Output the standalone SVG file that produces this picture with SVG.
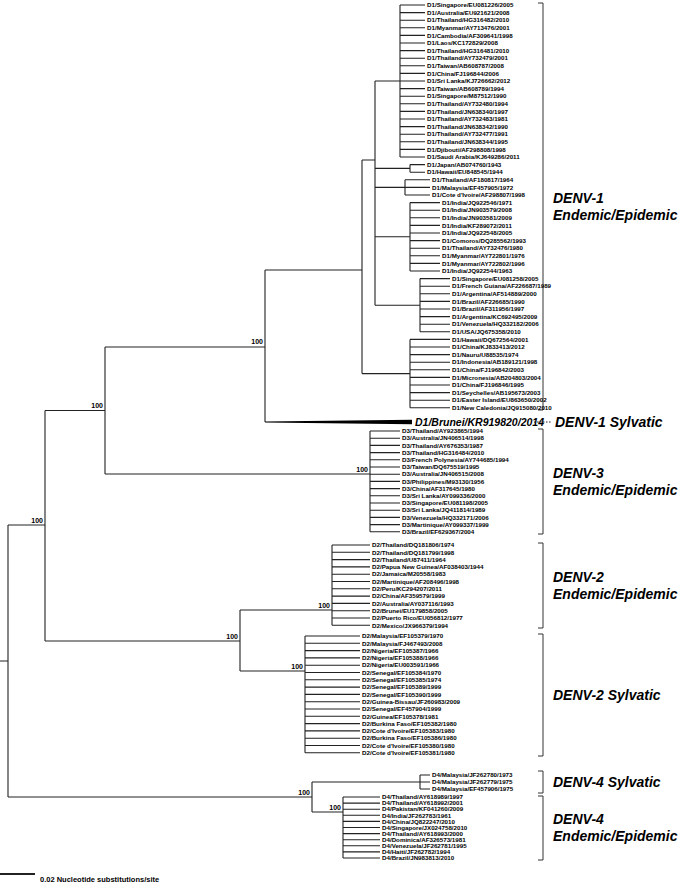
<svg xmlns="http://www.w3.org/2000/svg" width="685" height="888" viewBox="0 0 685 888">
<style>
.l{font-family:"Liberation Sans",Arial,sans-serif;font-size:6.2px;font-weight:bold;fill:#000}
.b{font-family:"Liberation Sans",Arial,sans-serif;font-size:7px;font-weight:bold;fill:#000;text-anchor:end}
.g{font-family:"Liberation Sans",Arial,sans-serif;font-size:14px;font-weight:bold;font-style:italic;fill:#000}
.t{fill:none;stroke:#222;stroke-width:1.1}
.k{fill:none;stroke:#333;stroke-width:1}
</style>
<rect width="685" height="888" fill="#fff"/>
<g id="connectors" class="t">
<path d="M0 661H8M8 525V797M8 525H45M45 410.5V641M45 410.5H105M105 347V474M105 347H265M265 270V422M265 270H362M362 160V373.6M362 160H375M375 81V305.2"/>
<path d="M375 81H400M400 5V157M400 5H425M400 12.6H425M400 20.2H425M400 27.8H425M400 35.4H425M400 43H425M400 50.6H425M400 58.2H425M400 65.8H425M400 73.4H425M400 81H425M400 88.6H425M400 96.2H425M400 103.8H425M400 111.4H425M400 119H425M400 126.6H425M400 134.2H425M400 141.8H425M400 149.4H425M400 157H425"/>
<path d="M375 168.4H410M410 164.6V172.2M410 164.6H425M410 172.2H425M375 187.4H405M405 179.8V195M405 179.8H430M405 187.4H430M405 195H430"/>
<path d="M375 236.8H410M410 202.6V271M410 202.6H440M410 210.2H440M410 217.8H440M410 225.4H440M410 233H440M410 240.6H440M410 248.2H440M410 255.8H440M410 263.4H440M410 271H440"/>
<path d="M375 305.2H420M420 278.6V331.8M420 278.6H450M420 286.2H450M420 293.8H450M420 301.4H450M420 309H450M420 316.6H450M420 324.2H450M420 331.8H450"/>
<path d="M362 373.6H410M410 339.4V407.8M410 339.4H450M410 347H450M410 354.6H450M410 362.2H450M410 369.8H450M410 377.4H450M410 385H450M410 392.6H450M410 400.2H450M410 407.8H450"/>
<path d="M105 474H370M370 431V531.8M370 431H400M370 438.2H400M370 445.4H400M370 452.6H400M370 459.8H400M370 467H400M370 474.2H400M370 481.4H400M370 488.6H400M370 495.8H400M370 503H400M370 510.2H400M370 517.4H400M370 524.6H400M370 531.8H400"/>
<path d="M45 641H240M240 610V671M240 610H332M332 545V625.3M332 545H370M332 552.3H370M332 559.6H370M332 566.9H370M332 574.2H370M332 581.5H370M332 588.8H370M332 596.1H370M332 603.4H370M332 610.7H370M332 618H370M332 625.3H370"/>
<path d="M240 671H305M305 636V752.8M305 636H360M305 643.3H360M305 650.6H360M305 657.9H360M305 665.2H360M305 672.5H360M305 679.8H360M305 687.1H360M305 694.4H360M305 701.7H360M305 709H360M305 716.3H360M305 723.6H360M305 730.9H360M305 738.2H360M305 745.5H360M305 752.8H360"/>
<path d="M8 797H312M312 782V812M312 782H420M420 775V789M420 775H430M420 782H430M420 789H430M312 812H343M343 797V858M343 797H380M343 803.1H380M343 809.2H380M343 815.3H380M343 821.4H380M343 827.5H380M343 833.6H380M343 839.7H380M343 845.8H380M343 851.9H380M343 858H380"/>
<path d="M534 422H552" stroke-dasharray="1.5 1.5"/>
<path d="M0 874H35" stroke-width="2"/>
</g>
<polygon id="wedge" points="265,421.6 412,419.8 412,424.2 265,422.4" fill="#000"/>
<g id="brackets" class="k">
<path d="M538 3H543V410H538"/>
<path d="M538 429H543V534H538"/>
<path d="M538 543H543V628H538"/>
<path d="M538 634H543V756H538"/>
<path d="M538 771H543V793H538"/>
<path d="M538 796H543V860H538"/>
</g>
<g id="support" class="b">
<text x="263" y="344">100</text>
<text x="103" y="408">100</text>
<text x="43" y="523">100</text>
<text x="368" y="472">100</text>
<text x="238" y="639">100</text>
<text x="330" y="608">100</text>
<text x="303" y="669">100</text>
<text x="310" y="795">100</text>
<text x="341" y="810">100</text>
</g>
<g id="leaves-D1" class="l">
<text x="427" y="7.2">D1/Singapore/EU081226/2005</text>
<text x="427" y="14.8">D1/Australia/EU921621/2008</text>
<text x="427" y="22.4">D1/Thailand/HG316482/2010</text>
<text x="427" y="30">D1/Myanmar/AY713476/2001</text>
<text x="427" y="37.6">D1/Cambodia/AF309641/1998</text>
<text x="427" y="45.2">D1/Laos/KC172829/2008</text>
<text x="427" y="52.8">D1/Thailand/HG316481/2010</text>
<text x="427" y="60.4">D1/Thailand/AY732479/2001</text>
<text x="427" y="68">D1/Taiwan/AB608787/2008</text>
<text x="427" y="75.6">D1/China/FJ196844/2006</text>
<text x="427" y="83.2">D1/Sri Lanka/KJ726662/2012</text>
<text x="427" y="90.8">D1/Taiwan/AB608789/1994</text>
<text x="427" y="98.4">D1/Singapore/M87512/1990</text>
<text x="427" y="106">D1/Thailand/AY732480/1994</text>
<text x="427" y="113.6">D1/Thailand/JN638340/1997</text>
<text x="427" y="121.2">D1/Thailand/AY732483/1981</text>
<text x="427" y="128.8">D1/Thailand/JN638342/1990</text>
<text x="427" y="136.4">D1/Thailand/AY732477/1991</text>
<text x="427" y="144">D1/Thailand/JN638344/1995</text>
<text x="427" y="151.6">D1/Djibouti/AF298808/1998</text>
<text x="427" y="159.2">D1/Saudi Arabia/KJ649286/2011</text>
<text x="427" y="166.8">D1/Japan/AB074760/1943</text>
<text x="427" y="174.4">D1/Hawaii/EU848545/1944</text>
<text x="432" y="182">D1/Thailand/AF180817/1964</text>
<text x="432" y="189.6">D1/Malaysia/EF457905/1972</text>
<text x="432" y="197.2">D1/Cote d'Ivoire/AF298807/1998</text>
<text x="442" y="204.8">D1/India/JQ922546/1971</text>
<text x="442" y="212.4">D1/India/JN903579/2008</text>
<text x="442" y="220">D1/India/JN903581/2009</text>
<text x="442" y="227.6">D1/India/KF289072/2011</text>
<text x="442" y="235.2">D1/India/JQ922548/2005</text>
<text x="442" y="242.8">D1/Comoros/DQ285562/1993</text>
<text x="442" y="250.4">D1/Thailand/AY732476/1980</text>
<text x="442" y="258">D1/Myanmar/AY722801/1976</text>
<text x="442" y="265.6">D1/Myanmar/AY722802/1996</text>
<text x="442" y="273.2">D1/India/JQ922544/1963</text>
<text x="452" y="280.8">D1/Singapore/EU081258/2005</text>
<text x="452" y="288.4">D1/French Guiana/AF226687/1989</text>
<text x="452" y="296">D1/Argentina/AF514889/2000</text>
<text x="452" y="303.6">D1/Brazil/AF226685/1990</text>
<text x="452" y="311.2">D1/Brazil/AF311956/1997</text>
<text x="452" y="318.8">D1/Argentina/KC692495/2009</text>
<text x="452" y="326.4">D1/Venezuela/HQ332182/2006</text>
<text x="452" y="334">D1/USA/JQ675358/2010</text>
<text x="452" y="341.6">D1/Hawaii/DQ672564/2001</text>
<text x="452" y="349.2">D1/China/KJ833413/2012</text>
<text x="452" y="356.8">D1/Nauru/U88535/1974</text>
<text x="452" y="364.4">D1/Indonesia/AB189121/1998</text>
<text x="452" y="372">D1/China/FJ196842/2003</text>
<text x="452" y="379.6">D1/Micronesia/AB204803/2004</text>
<text x="452" y="387.2">D1/China/FJ196846/1995</text>
<text x="452" y="394.8">D1/Seychelles/AB195673/2003</text>
<text x="452" y="402.4">D1/Easter Island/EU863650/2002</text>
<text x="452" y="410">D1/New Caledonia/JQ915080/2010</text>
</g>
<g id="leaf-D1-sylvatic"><text x="415" y="426" style="font-family:'Liberation Sans',Arial,sans-serif;font-size:10.5px;font-weight:bold;font-style:italic">D1/Brunei/KR919820/2014</text></g>
<g id="leaves-D3" class="l">
<text x="402" y="433.2">D3/Thailand/AY923865/1994</text>
<text x="402" y="440.4">D3/Australia/JN406514/1998</text>
<text x="402" y="447.6">D3/Thailand/AY676353/1987</text>
<text x="402" y="454.8">D3/Thailand/HG316484/2010</text>
<text x="402" y="462">D3/French Polynesia/AY744685/1994</text>
<text x="402" y="469.2">D3/Taiwan/DQ675519/1995</text>
<text x="402" y="476.4">D3/Australia/JN406515/2008</text>
<text x="402" y="483.6">D3/Philippines/M93130/1956</text>
<text x="402" y="490.8">D3/China/AF317645/1980</text>
<text x="402" y="498">D3/Sri Lanka/AY099336/2000</text>
<text x="402" y="505.2">D3/Singapore/EU081198/2005</text>
<text x="402" y="512.4">D3/Sri Lanka/JQ411814/1989</text>
<text x="402" y="519.6">D3/Venezuela/HQ332171/2006</text>
<text x="402" y="526.8">D3/Martinique/AY099337/1999</text>
<text x="402" y="534">D3/Brazil/EF629367/2004</text>
</g>
<g id="leaves-D2" class="l">
<text x="372" y="547.2">D2/Thailand/DQ181806/1974</text>
<text x="372" y="554.5">D2/Thailand/DQ181799/1998</text>
<text x="372" y="561.8">D2/Thailand/U87411/1964</text>
<text x="372" y="569.1">D2/Papua New Guinea/AF038403/1944</text>
<text x="372" y="576.4">D2/Jamaica/M20558/1983</text>
<text x="372" y="583.7">D2/Martinique/AF208496/1998</text>
<text x="372" y="591">D2/Peru/KC294207/2011</text>
<text x="372" y="598.3">D2/China/AF359579/1999</text>
<text x="372" y="605.6">D2/Australia/AY037116/1993</text>
<text x="372" y="612.9">D2/Brunei/EU179858/2005</text>
<text x="372" y="620.2">D2/Puerto Rico/EU056812/1977</text>
<text x="372" y="627.5">D2/Mexico/JX966379/1994</text>
<text x="362" y="638.2">D2/Malaysia/EF105379/1970</text>
<text x="362" y="645.5">D2/Malaysia/FJ467493/2008</text>
<text x="362" y="652.8">D2/Nigeria/EF105387/1966</text>
<text x="362" y="660.1">D2/Nigeria/EF105388/1966</text>
<text x="362" y="667.4">D2/Nigeria/EU003591/1966</text>
<text x="362" y="674.7">D2/Senegal/EF105384/1970</text>
<text x="362" y="682">D2/Senegal/EF105385/1974</text>
<text x="362" y="689.3">D2/Senegal/EF105389/1999</text>
<text x="362" y="696.6">D2/Senegal/EF105390/1999</text>
<text x="362" y="703.9">D2/Guinea-Bissau/JF260983/2009</text>
<text x="362" y="711.2">D2/Senegal/EF457904/1999</text>
<text x="362" y="718.5">D2/Guinea/EF105378/1981</text>
<text x="362" y="725.8">D2/Burkina Faso/EF105382/1980</text>
<text x="362" y="733.1">D2/Cote d'Ivoire/EF105383/1980</text>
<text x="362" y="740.4">D2/Burkina Faso/EF105386/1980</text>
<text x="362" y="747.7">D2/Cote d'Ivoire/EF105380/1980</text>
<text x="362" y="755">D2/Cote d'Ivoire/EF105381/1980</text>
</g>
<g id="leaves-D4" class="l">
<text x="432" y="777.2">D4/Malaysia/JF262780/1973</text>
<text x="432" y="784.2">D4/Malaysia/JF262779/1975</text>
<text x="432" y="791.2">D4/Malaysia/EF457906/1975</text>
<text x="382" y="799.2">D4/Thailand/AY618989/1997</text>
<text x="382" y="805.3">D4/Thailand/AY618992/2001</text>
<text x="382" y="811.4">D4/Pakistan/KF041260/2009</text>
<text x="382" y="817.5">D4/India/JF262783/1961</text>
<text x="382" y="823.6">D4/China/JQ822247/2010</text>
<text x="382" y="829.7">D4/Singapore/JX024758/2010</text>
<text x="382" y="835.8">D4/Thailand/AY618993/2000</text>
<text x="382" y="841.9">D4/Dominica/AF326573/1981</text>
<text x="382" y="848">D4/Venezuela/JF262781/1995</text>
<text x="382" y="854.1">D4/Haiti/JF262782/1994</text>
<text x="382" y="860.2">D4/Brazil/JN983813/2010</text>
</g>
<g id="group-labels" class="g">
<text x="553" y="203">DENV-1</text><text x="553" y="220">Endemic/Epidemic</text>
<text x="555" y="427">DENV-1 Sylvatic</text>
<text x="553" y="478">DENV-3</text><text x="553" y="495">Endemic/Epidemic</text>
<text x="553" y="582">DENV-2</text><text x="553" y="599">Endemic/Epidemic</text>
<text x="553" y="700">DENV-2 Sylvatic</text>
<text x="553" y="787">DENV-4 Sylvatic</text>
<text x="553" y="824">DENV-4</text><text x="553" y="841">Endemic/Epidemic</text>
</g>
<text x="40" y="882" style="font-family:'Liberation Sans',Arial,sans-serif;font-size:7.5px;font-weight:bold">0.02 Nucleotide substitutions/site</text>
</svg>
